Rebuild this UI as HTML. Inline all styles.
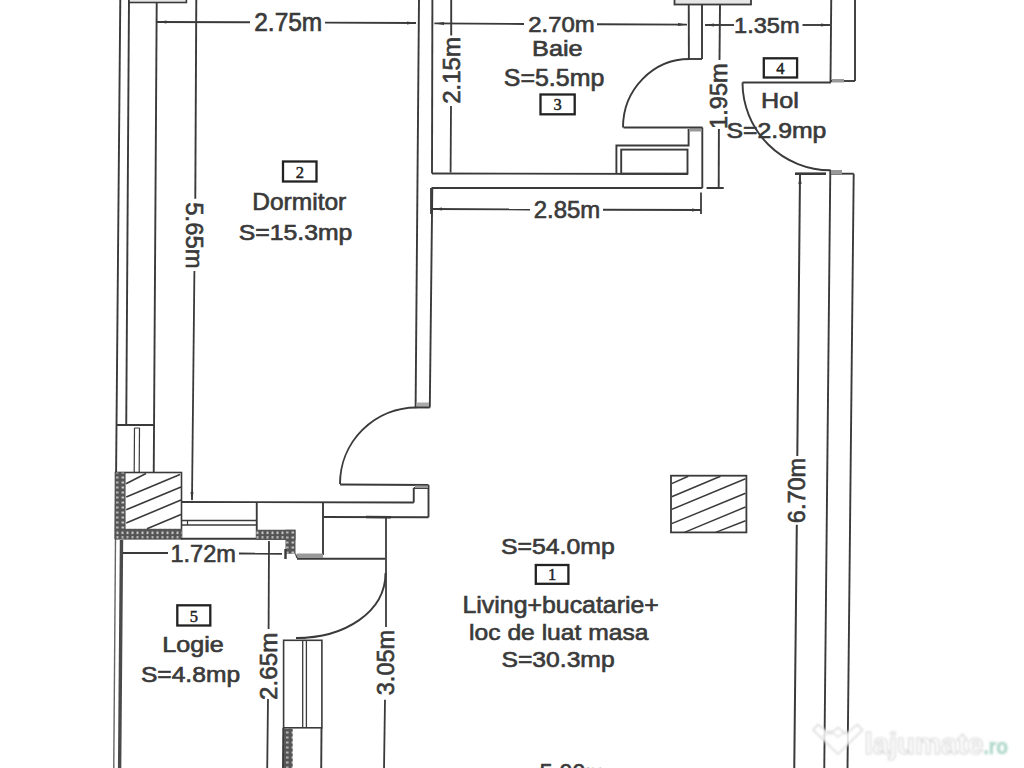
<!DOCTYPE html>
<html><head><meta charset="utf-8"><style>
html,body{margin:0;padding:0;background:#fff;overflow:hidden}
svg{display:block;font-family:"Liberation Sans",sans-serif}
</style></head><body>
<svg width="1024" height="768" viewBox="0 0 1024 768">
<defs>
<pattern id="brick" x="0" y="0" width="10" height="5" patternUnits="userSpaceOnUse">
<rect width="10" height="5" fill="#555"/><rect x="1.5" y="1.5" width="2.6" height="2" fill="#c4c4c4"/><rect x="6" y="1.5" width="2.6" height="2" fill="#b4b4b4"/>
</pattern>
<pattern id="brickh" x="0" y="0" width="5" height="10" patternUnits="userSpaceOnUse">
<rect width="5" height="10" fill="#555"/><rect x="1.5" y="1.5" width="2" height="2.6" fill="#c4c4c4"/><rect x="1.5" y="6" width="2" height="2.6" fill="#b4b4b4"/>
</pattern>
<filter id="soft" filterUnits="userSpaceOnUse" x="0" y="0" width="1024" height="768"><feGaussianBlur stdDeviation="0.8"/></filter>
</defs>
<rect width="1024" height="768" fill="#fff"/>
<g>
<line x1="120.3" y1="-2" x2="115.5" y2="539" stroke="#3a3a3a" stroke-width="1.9"/>
<line x1="115.5" y1="539" x2="113.75" y2="770" stroke="#666" stroke-width="1.4"/>
<line x1="129" y1="-2" x2="126.25" y2="424" stroke="#3a3a3a" stroke-width="1.9"/>
<line x1="156.7" y1="2.5" x2="153.75" y2="472" stroke="#3a3a3a" stroke-width="1.9"/>
<line x1="117" y1="425" x2="154" y2="425" stroke="#3a3a3a" stroke-width="1.9"/>
<line x1="134.5" y1="428" x2="134.2" y2="472" stroke="#3a3a3a" stroke-width="1.2"/>
<line x1="139.5" y1="428" x2="139.2" y2="472" stroke="#3a3a3a" stroke-width="1.2"/>
<line x1="134.5" y1="428" x2="139.5" y2="428" stroke="#3a3a3a" stroke-width="1.0"/>
<rect x="129" y="-3" width="57.4" height="5.5" stroke="#3a3a3a" stroke-width="1.6" fill="#e6e6e6"/>
<line x1="196.3" y1="-2" x2="195.3" y2="198.8" stroke="#3a3a3a" stroke-width="1.9"/>
<line x1="194.4" y1="270.9" x2="192" y2="500" stroke="#3a3a3a" stroke-width="1.8"/>
<polygon points="192,501 190.5,492 193.5,492" fill="#3a3a3a"/>
<text transform="translate(186.45,202.30) rotate(90)" x="0" y="0" font-size="23.28" textLength="66.22" lengthAdjust="spacingAndGlyphs" fill="#3a3a3a" stroke="#3a3a3a" stroke-width="0.65">5.65m</text>
<line x1="156.7" y1="22" x2="250" y2="22.3" stroke="#3a3a3a" stroke-width="1.9"/>
<line x1="325" y1="22.6" x2="416" y2="23" stroke="#3a3a3a" stroke-width="1.9"/>
<polygon points="157.5,22 166.5,20.5 166.5,23.5" fill="#3a3a3a"/>
<polygon points="416,23 407,21.5 407,24.5" fill="#3a3a3a"/>
<text x="254.22" y="31.05" font-size="24.88" textLength="68.05" lengthAdjust="spacingAndGlyphs" fill="#3a3a3a" stroke="#3a3a3a" stroke-width="0.65">2.75m</text>
<line x1="419" y1="-2" x2="415.6" y2="407.5" stroke="#3a3a3a" stroke-width="1.9"/>
<line x1="432.4" y1="-2" x2="432" y2="173.5" stroke="#3a3a3a" stroke-width="1.9"/>
<line x1="432.3" y1="188" x2="429.8" y2="407.5" stroke="#3a3a3a" stroke-width="1.9"/>
<rect x="416.5" y="402.5" width="12.5" height="4.5" fill="#aaa"/>
<line x1="415.6" y1="407.5" x2="429.8" y2="407.5" stroke="#3a3a3a" stroke-width="1.9"/>
<line x1="434.4" y1="23.4" x2="524" y2="24" stroke="#3a3a3a" stroke-width="1.9"/>
<line x1="597" y1="24.2" x2="687" y2="24.6" stroke="#3a3a3a" stroke-width="1.9"/>
<polygon points="435,23.4 444,21.9 444,24.9" fill="#3a3a3a"/>
<polygon points="687,24.6 678,23.1 678,26.1" fill="#3a3a3a"/>
<text x="528.25" y="32.15" font-size="22.41" textLength="66.48" lengthAdjust="spacingAndGlyphs" fill="#3a3a3a" stroke="#3a3a3a" stroke-width="0.65">2.70m</text>
<line x1="451.2" y1="-2" x2="451.2" y2="35.5" stroke="#3a3a3a" stroke-width="1.9"/>
<line x1="451" y1="106" x2="450.6" y2="172.5" stroke="#3a3a3a" stroke-width="1.8"/>
<text transform="translate(459.85,103.76) rotate(-90)" x="0" y="0" font-size="24.30" textLength="66.69" lengthAdjust="spacingAndGlyphs" fill="#3a3a3a" stroke="#3a3a3a" stroke-width="0.65">2.15m</text>
<line x1="432" y1="173.5" x2="688" y2="174" stroke="#3a3a3a" stroke-width="1.9"/>
<line x1="431.5" y1="188" x2="702.3" y2="188" stroke="#3a3a3a" stroke-width="1.9"/>
<line x1="702.3" y1="127.5" x2="702.3" y2="188" stroke="#3a3a3a" stroke-width="1.9"/>
<path d="M688.6,129 L688.6,145.5 L616.4,145.5 L616.4,173.8" stroke="#3a3a3a" stroke-width="1.9" fill="none"/>
<rect x="621.2" y="149.6" width="66.3" height="24" stroke="#3a3a3a" stroke-width="1.9" fill="none"/>
<rect x="689.5" y="128.5" width="12" height="3" fill="#999"/>
<line x1="623.5" y1="127.5" x2="702.5" y2="127.5" stroke="#3a3a3a" stroke-width="1.9"/>
<path d="M623,127.5 A66.5,68.5 0 0 1 689.5,59" stroke="#3a3a3a" stroke-width="1.9" fill="none"/>
<line x1="688.75" y1="3.75" x2="688.9" y2="59" stroke="#3a3a3a" stroke-width="1.9"/>
<line x1="702" y1="3.75" x2="702" y2="59" stroke="#3a3a3a" stroke-width="1.9"/>
<line x1="688.75" y1="59" x2="702" y2="59" stroke="#3a3a3a" stroke-width="1.9"/>
<rect x="674.5" y="-4" width="76.5" height="8.5" stroke="#3a3a3a" stroke-width="1.8" fill="#e6e6e6"/>
<line x1="720" y1="5" x2="719.5" y2="60" stroke="#3a3a3a" stroke-width="1.9"/>
<line x1="718.9" y1="129" x2="718.7" y2="188" stroke="#3a3a3a" stroke-width="1.9"/>
<line x1="706.6" y1="188" x2="723.7" y2="188" stroke="#3a3a3a" stroke-width="2"/>
<text transform="translate(727.35,128.95) rotate(-90)" x="0" y="0" font-size="23.58" textLength="65.76" lengthAdjust="spacingAndGlyphs" fill="#3a3a3a" stroke="#3a3a3a" stroke-width="0.65">1.95m</text>
<line x1="433" y1="209" x2="530" y2="209.5" stroke="#3a3a3a" stroke-width="1.9"/>
<line x1="603" y1="209.8" x2="701" y2="210" stroke="#3a3a3a" stroke-width="1.9"/>
<line x1="701" y1="192.5" x2="701" y2="214" stroke="#3a3a3a" stroke-width="1.8"/>
<line x1="431" y1="188" x2="431" y2="214" stroke="#3a3a3a" stroke-width="1.8"/>
<polygon points="433,209 442,207.5 442,210.5" fill="#3a3a3a"/>
<polygon points="701,210 692,208.5 692,211.5" fill="#3a3a3a"/>
<text x="533.75" y="217.95" font-size="24.16" textLength="66.58" lengthAdjust="spacingAndGlyphs" fill="#3a3a3a" stroke="#3a3a3a" stroke-width="0.65">2.85m</text>
<line x1="705" y1="25" x2="734" y2="25" stroke="#3a3a3a" stroke-width="1.9"/>
<line x1="802.5" y1="25" x2="830" y2="25" stroke="#3a3a3a" stroke-width="1.9"/>
<polygon points="705,25 714,23.5 714,26.5" fill="#3a3a3a"/>
<polygon points="830,25 821,23.5 821,26.5" fill="#3a3a3a"/>
<text x="734.05" y="32.95" font-size="22.56" textLength="65.55" lengthAdjust="spacingAndGlyphs" fill="#3a3a3a" stroke="#3a3a3a" stroke-width="0.65">1.35m</text>
<line x1="831.25" y1="-2" x2="830.5" y2="82.5" stroke="#3a3a3a" stroke-width="1.9"/>
<line x1="855" y1="-2" x2="855" y2="81" stroke="#3a3a3a" stroke-width="1.9"/>
<line x1="830.5" y1="81" x2="855" y2="81" stroke="#3a3a3a" stroke-width="1.9"/>
<rect x="832" y="79" width="12" height="3.5" fill="#999"/>
<line x1="742.5" y1="82.5" x2="831" y2="82.5" stroke="#3a3a3a" stroke-width="1.9"/>
<path d="M742.5,82.5 A88,88 0 0 0 830.3,170.3" stroke="#3a3a3a" stroke-width="1.9" fill="none"/>
<rect x="763.8" y="58.3" width="33.30000000000007" height="19.200000000000003" stroke="#222" stroke-width="2.3" fill="none"/>
<text x="780.45" y="73.50" font-size="16.5" text-anchor="middle" fill="#222" stroke="#222" stroke-width="0.45" font-family="Liberation Serif, serif">4</text>
<text x="761.09" y="108.15" font-size="22.41" textLength="37.75" lengthAdjust="spacingAndGlyphs" fill="#3a3a3a" stroke="#3a3a3a" stroke-width="0.65">Hol</text>
<text x="726.52" y="137.75" font-size="21.98" textLength="99.87" lengthAdjust="spacingAndGlyphs" fill="#3a3a3a" stroke="#3a3a3a" stroke-width="0.65">S=2.9mp</text>
<line x1="830.3" y1="169.8" x2="824.25" y2="770" stroke="#3a3a3a" stroke-width="1.9"/>
<line x1="853.7" y1="173.7" x2="847.5" y2="770" stroke="#3a3a3a" stroke-width="1.9"/>
<line x1="830.3" y1="173.7" x2="853.7" y2="173.7" stroke="#3a3a3a" stroke-width="1.9"/>
<rect x="831" y="170" width="11" height="4" fill="#999"/>
<line x1="795" y1="173.7" x2="826" y2="173.7" stroke="#3a3a3a" stroke-width="2.6"/>
<line x1="800" y1="174" x2="797.3" y2="456" stroke="#3a3a3a" stroke-width="2.0"/>
<polygon points="800,175 798.4,184 801.6,184" fill="#3a3a3a"/>
<line x1="796.8" y1="524.7" x2="794.25" y2="770" stroke="#3a3a3a" stroke-width="2.0"/>
<text transform="translate(805.15,523.14) rotate(-90)" x="0" y="0" font-size="24.16" textLength="65.24" lengthAdjust="spacingAndGlyphs" fill="#3a3a3a" stroke="#3a3a3a" stroke-width="0.65">6.70m</text>
<path d="M416.4,407.5 A76.5,76.5 0 0 0 340,484" stroke="#3a3a3a" stroke-width="1.9" fill="none"/>
<line x1="340" y1="484.5" x2="428.5" y2="485" stroke="#3a3a3a" stroke-width="1.9"/>
<line x1="428.5" y1="485" x2="428.5" y2="517.25" stroke="#3a3a3a" stroke-width="1.9"/>
<line x1="181" y1="502" x2="413.75" y2="502.5" stroke="#3a3a3a" stroke-width="1.9"/>
<line x1="413.75" y1="488" x2="413.75" y2="502.5" stroke="#3a3a3a" stroke-width="1.9"/>
<line x1="413.75" y1="488" x2="428.5" y2="488" stroke="#3a3a3a" stroke-width="1.9"/>
<rect x="415" y="485.5" width="13" height="2.5" fill="#999"/>
<line x1="323" y1="517" x2="428.5" y2="517.25" stroke="#3a3a3a" stroke-width="1.9"/>
<line x1="366" y1="517" x2="391" y2="517.25" stroke="#3a3a3a" stroke-width="2.6"/>
<g>
<rect x="115.5" y="472.5" width="66" height="66.25" stroke="#3a3a3a" stroke-width="1.6" fill="none"/>
</g>
<rect x="115" y="472.5" width="10.6" height="66.3" fill="url(#brick)"/>
<rect x="115" y="528.75" width="67" height="10" fill="url(#brickh)"/>
<line x1="126" y1="483.7" x2="146" y2="473.5" stroke="#3a3a3a" stroke-width="1.6"/>
<line x1="126.2" y1="496.9" x2="180" y2="474.4" stroke="#3a3a3a" stroke-width="1.6"/>
<line x1="126.2" y1="509.8" x2="181" y2="487" stroke="#3a3a3a" stroke-width="1.6"/>
<line x1="126.2" y1="523" x2="181" y2="500" stroke="#3a3a3a" stroke-width="1.6"/>
<line x1="147" y1="528.8" x2="181" y2="514.5" stroke="#3a3a3a" stroke-width="1.6"/>
<line x1="181" y1="520.5" x2="256.75" y2="520.5" stroke="#3a3a3a" stroke-width="1.4"/>
<line x1="181" y1="525" x2="256.75" y2="525" stroke="#3a3a3a" stroke-width="1.4"/>
<line x1="181" y1="538.75" x2="256.75" y2="538.75" stroke="#3a3a3a" stroke-width="1.9"/>
<line x1="187.5" y1="520.5" x2="187.5" y2="525" stroke="#3a3a3a" stroke-width="1.2"/>
<line x1="256.75" y1="502" x2="256.75" y2="538.75" stroke="#3a3a3a" stroke-width="1.9"/>
<rect x="256" y="529.75" width="39.5" height="10.25" fill="url(#brickh)"/>
<rect x="285.5" y="529.75" width="10" height="24" fill="url(#brick)"/>
<line x1="323" y1="502" x2="323" y2="555" stroke="#3a3a3a" stroke-width="1.9"/>
<line x1="297" y1="558.8" x2="385" y2="558.8" stroke="#3a3a3a" stroke-width="1.9"/>
<rect x="297" y="553.5" width="26" height="4.5" fill="#999"/>
<line x1="295.5" y1="553.75" x2="297" y2="558" stroke="#3a3a3a" stroke-width="1.2"/>
<line x1="121.5" y1="540" x2="119.6" y2="770" stroke="#4a4a4a" stroke-width="3.4"/>
<line x1="123" y1="553" x2="168" y2="553" stroke="#3a3a3a" stroke-width="1.8"/>
<line x1="239" y1="553.5" x2="282" y2="553.75" stroke="#3a3a3a" stroke-width="1.8"/>
<text x="170.46" y="561.85" font-size="24.01" textLength="65.45" lengthAdjust="spacingAndGlyphs" fill="#3a3a3a" stroke="#3a3a3a" stroke-width="0.65">1.72m</text>
<line x1="285.5" y1="549" x2="285.5" y2="559" stroke="#3a3a3a" stroke-width="2.4"/>
<line x1="269" y1="541" x2="268.6" y2="629" stroke="#3a3a3a" stroke-width="1.8"/>
<line x1="268" y1="699" x2="267.2" y2="770" stroke="#3a3a3a" stroke-width="1.8"/>
<text transform="translate(276.75,699.97) rotate(-90)" x="0" y="0" font-size="24.74" textLength="67.31" lengthAdjust="spacingAndGlyphs" fill="#3a3a3a" stroke="#3a3a3a" stroke-width="0.65">2.65m</text>
<line x1="386" y1="517" x2="386" y2="627" stroke="#3a3a3a" stroke-width="1.8"/>
<line x1="385" y1="699.7" x2="384" y2="770" stroke="#3a3a3a" stroke-width="1.8"/>
<text transform="translate(394.15,695.25) rotate(-90)" x="0" y="0" font-size="24.74" textLength="65.45" lengthAdjust="spacingAndGlyphs" fill="#3a3a3a" stroke="#3a3a3a" stroke-width="0.65">3.05m</text>
<path d="M385.5,573 C385.5,612 345,638 296,638" stroke="#3a3a3a" stroke-width="1.9" fill="none"/>
<line x1="296" y1="638" x2="306" y2="638" stroke="#3a3a3a" stroke-width="1.4"/>
<rect x="283.6" y="640.3" width="38.3" height="87.5" stroke="#3a3a3a" stroke-width="1.6" fill="none"/>
<line x1="302.7" y1="640.3" x2="302.7" y2="727.8" stroke="#3a3a3a" stroke-width="1.3"/>
<line x1="306.4" y1="640.3" x2="306.4" y2="727.8" stroke="#3a3a3a" stroke-width="1.3"/>
<line x1="283.3" y1="727.8" x2="283" y2="770" stroke="#3a3a3a" stroke-width="1.9"/>
<line x1="321.5" y1="727.8" x2="321.2" y2="770" stroke="#3a3a3a" stroke-width="1.9"/>
<rect x="284" y="728.5" width="8.7" height="42" fill="url(#brick)"/>
<rect x="671" y="475.7" width="75.4" height="56.7" stroke="#3a3a3a" stroke-width="1.8" fill="none"/>
<line x1="671.7" y1="483.6" x2="688.3" y2="476.2" stroke="#3a3a3a" stroke-width="1.5"/>
<line x1="671.7" y1="496.7" x2="720.5" y2="476.2" stroke="#3a3a3a" stroke-width="1.5"/>
<line x1="671.7" y1="509.4" x2="745.5" y2="478.7" stroke="#3a3a3a" stroke-width="1.5"/>
<line x1="671.7" y1="523.6" x2="745.5" y2="493.3" stroke="#3a3a3a" stroke-width="1.5"/>
<line x1="684.4" y1="532.4" x2="745.5" y2="507" stroke="#3a3a3a" stroke-width="1.5"/>
<line x1="715.7" y1="532.4" x2="745.5" y2="520.7" stroke="#3a3a3a" stroke-width="1.5"/>
<rect x="283" y="161.5" width="33.5" height="20.0" stroke="#222" stroke-width="2.3" fill="none"/>
<text x="299.75" y="177.50" font-size="16.5" text-anchor="middle" fill="#222" stroke="#222" stroke-width="0.45" font-family="Liberation Serif, serif">2</text>
<text x="252.24" y="209.85" font-size="23.43" textLength="94.02" lengthAdjust="spacingAndGlyphs" fill="#3a3a3a" stroke="#3a3a3a" stroke-width="0.65">Dormitor</text>
<text x="238.83" y="239.65" font-size="21.25" textLength="113.56" lengthAdjust="spacingAndGlyphs" fill="#3a3a3a" stroke="#3a3a3a" stroke-width="0.65">S=15.3mp</text>
<rect x="540.5" y="94.5" width="34.200000000000045" height="19.799999999999997" stroke="#222" stroke-width="2.3" fill="none"/>
<text x="557.60" y="110.30" font-size="16.5" text-anchor="middle" fill="#222" stroke="#222" stroke-width="0.45" font-family="Liberation Serif, serif">3</text>
<text x="532.08" y="56.25" font-size="22.41" textLength="50.49" lengthAdjust="spacingAndGlyphs" fill="#3a3a3a" stroke="#3a3a3a" stroke-width="0.65">Baie</text>
<text x="503.82" y="86.35" font-size="23.87" textLength="100.48" lengthAdjust="spacingAndGlyphs" fill="#3a3a3a" stroke="#3a3a3a" stroke-width="0.65">S=5.5mp</text>
<rect x="177.3" y="605.3" width="33.0" height="20.200000000000045" stroke="#222" stroke-width="2.3" fill="none"/>
<text x="193.80" y="621.50" font-size="16.5" text-anchor="middle" fill="#222" stroke="#222" stroke-width="0.45" font-family="Liberation Serif, serif">5</text>
<text x="162.39" y="651.95" font-size="22.27" textLength="61.48" lengthAdjust="spacingAndGlyphs" fill="#3a3a3a" stroke="#3a3a3a" stroke-width="0.65">Logie</text>
<text x="140.93" y="681.65" font-size="22.41" textLength="99.15" lengthAdjust="spacingAndGlyphs" fill="#3a3a3a" stroke="#3a3a3a" stroke-width="0.65">S=4.8mp</text>
<text x="501.02" y="553.85" font-size="22.85" textLength="113.67" lengthAdjust="spacingAndGlyphs" fill="#3a3a3a" stroke="#3a3a3a" stroke-width="0.65">S=54.0mp</text>
<rect x="535.8" y="565" width="32.60000000000002" height="18.799999999999955" stroke="#222" stroke-width="2.3" fill="none"/>
<text x="552.10" y="579.80" font-size="16.5" text-anchor="middle" fill="#222" stroke="#222" stroke-width="0.45" font-family="Liberation Serif, serif">1</text>
<text x="462.51" y="612.65" font-size="23.87" textLength="196.37" lengthAdjust="spacingAndGlyphs" fill="#3a3a3a" stroke="#3a3a3a" stroke-width="0.65">Living+bucatarie+</text>
<text x="469.09" y="640.35" font-size="22.65" textLength="179.36" lengthAdjust="spacingAndGlyphs" fill="#3a3a3a" stroke="#3a3a3a" stroke-width="0.65">loc de luat masa</text>
<text x="501.43" y="667.45" font-size="22.56" textLength="113.26" lengthAdjust="spacingAndGlyphs" fill="#3a3a3a" stroke="#3a3a3a" stroke-width="0.65">S=30.3mp</text>
<text x="539.40" y="780.65" font-size="24.16" textLength="65.81" lengthAdjust="spacingAndGlyphs" fill="#3a3a3a" stroke="#3a3a3a" stroke-width="0.65">5.00m</text>
</g>
<g filter="url(#soft)">
<path d="M818,724.5 L830,734 L838,727.5 L846,734 L857.5,724.5 L862.5,730 L838,754 L813,730 Z" fill="#fff" fill-opacity="0.85" stroke="#d4d4d4" stroke-width="1.3" stroke-linejoin="round"/>
<path d="M822,737 L830,731 L838,737 L846,731" fill="none" stroke="#dadada" stroke-width="1.2" stroke-linejoin="round"/>
<text x="864.5" y="753.8" font-size="29" font-weight="bold" textLength="119" lengthAdjust="spacingAndGlyphs" fill="#fff" fill-opacity="0.9" stroke="#d6d6d6" stroke-width="1.2">lajumate</text>
<text x="983.5" y="753.8" font-size="22" font-weight="bold" textLength="24.5" lengthAdjust="spacingAndGlyphs" fill="#a9d6c6" stroke="#b9ddd0" stroke-width="0.6">.ro</text>
</g>
</svg>
</body></html>
